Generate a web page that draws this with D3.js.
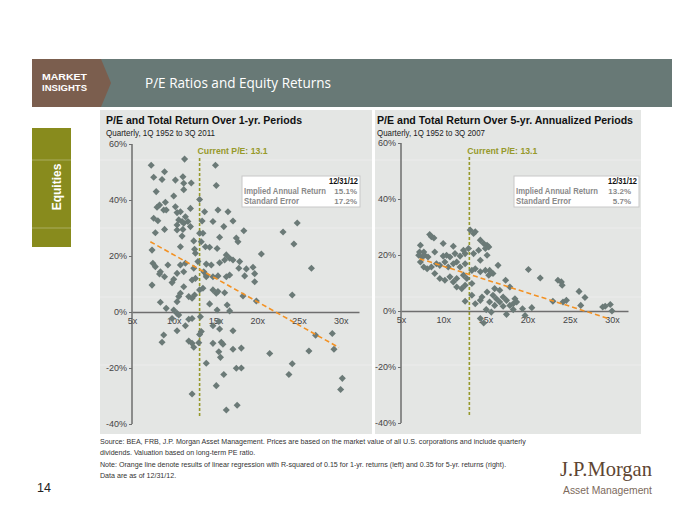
<!DOCTYPE html>
<html><head><meta charset="utf-8">
<script src="https://cdn.jsdelivr.net/npm/d3@7"></script>
<style>body{margin:0;background:#fff}svg{display:block}</style>
</head><body><svg id="c" width="700" height="525"></svg>
<script>
// ---------------- DATA ----------------
const yTickValues = [-40, -20, 0, 20, 40, 60];
const xTickValues = [5, 10, 15, 20, 25, 30];
const currentPE = 13.1;

// [P/E, total return %]  1-yr periods, quarterly 1Q1952-3Q2011
const oneYearPoints = [
[11.3,54.6],[7.3,52.4],[15.0,52.4],[8.9,50.1],[7.6,48.1],[8.6,47.3],[10.2,47.1],[11.1,48.3],[11.2,46.0],[12.1,46.1],
[15.1,45.2],[11.2,43.7],[7.9,43.0],[10.0,41.4],[13.1,40.2],[8.3,38.2],[8.0,37.4],[9.0,39.2],[10.2,37.6],[8.8,36.4],
[9.1,36.4],[12.0,37.0],[13.7,35.8],[15.3,36.4],[16.5,35.8],[10.4,35.5],[10.8,35.8],[11.4,34.0],[7.6,33.5],[8.1,32.6],
[10.6,32.9],[11.0,32.3],[11.2,31.7],[11.7,32.3],[10.4,31.1],[12.0,30.5],[13.4,32.5],[14.7,32.3],[16.0,30.5],[17.1,32.5],
[10.4,29.3],[11.1,29.5],[7.8,28.3],[8.9,29.5],[11.0,27.1],[13.1,28.1],[13.5,28.1],[15.5,26.7],[17.5,26.4],[17.7,25.1],
[18.4,29.0],[12.4,25.4],[13.3,25.1],[13.8,23.3],[14.3,23.1],[15.2,22.7],[7.4,22.1],[10.8,23.3],[12.5,22.4],[12.6,21.0],
[16.3,20.4],[16.7,19.2],[16.1,18.6],[17.1,18.6],[7.5,17.4],[7.8,16.2],[9.3,16.8],[10.8,16.8],[11.4,17.4],[12.9,18.0],
[13.9,17.1],[14.5,16.8],[15.5,17.6],[17.8,15.6],[8.4,14.4],[8.3,13.6],[10.4,13.8],[11.2,14.4],[12.4,15.6],[13.6,14.4],
[13.9,13.2],[14.7,12.6],[15.3,12.9],[16.3,12.6],[16.7,13.2],[8.9,12.6],[10.0,11.7],[7.4,9.6],[9.8,10.5],[12.2,11.4],
[12.6,12.0],[13.9,12.6],[11.2,9.0],[13.1,7.9],[13.5,8.5],[14.7,7.9],[15.1,6.7],[15.3,7.3],[16.1,6.9],[10.8,6.7],
[10.6,5.5],[11.8,5.5],[12.2,4.9],[10.4,3.7],[8.4,3.5],[12.5,6.1],[14.3,2.9],[16.4,2.5],[9.1,1.3],[10.0,0.7],
[10.4,-0.5],[15.2,0.7],[16.7,0.4],[10.6,-1.1],[9.8,-2.3],[11.8,-2.6],[12.2,-2.3],[13.2,-1.7],[11.4,-4.9],[14.7,-4.9],
[13.3,-7.0],[13.1,-8.0],[8.8,-8.2],[15.5,-6.1],[8.6,-10.8],[11.8,-10.4],[12.2,-11.2],[12.4,-12.6],[13.0,-11.0],[14.7,-11.2],
[15.7,-10.8],[15.9,-11.5],[15.4,-14.2],[17.1,-13.3],[18.1,-12.9],[13.9,-18.3],[17.5,-20.1],[18.1,-20.0],[16.0,-22.3],[15.1,-26.3],
[12.2,-29.3],[16.3,-35.0],[17.6,-33.3],[10.4,-6.7],[15.6,-16.2],[17.1,-6.7],[15.4,-3.4],
[17.9,18.0],[18.7,15.4],[18.5,12.9],[19.5,16.0],[19.7,13.7],[19.7,10.8],[20.5,20.7],[18.3,5.7],[19.9,3.9],[23.1,28.6],
[24.8,31.8],[24.4,24.3],[26.5,15.6],[24.2,6.1],[27.0,-8.3],[29.0,-7.7],[29.2,-13.3],[26.2,-13.9],[21.5,-14.8],[24.2,-18.5],
[23.8,-22.3],[30.2,-23.7],[30.0,-27.7]
];

// [P/E, annualized return %]  5-yr periods, quarterly 1Q1952-3Q2007
const fiveYearPoints = [
[8.4,27.3],[8.6,26.5],[8.9,26.1],[10.0,24.1],[11.2,23.1],[12.4,21.7],[7.3,23.5],[7.2,21.1],[7.7,21.1],[7.1,19.9],
[7.5,19.3],[7.8,19.9],[8.2,19.3],[9.0,21.1],[10.0,19.6],[10.4,19.9],[10.8,19.3],[11.4,20.5],[12.0,19.6],[12.6,20.5],
[13.0,22.3],[13.2,28.9],[13.6,27.7],[13.8,28.3],[14.4,25.3],[14.8,24.1],[15.2,23.5],[15.4,22.9],[15.0,22.3],[14.2,21.7],
[13.6,20.5],[14.4,18.1],[15.2,19.9],[16.5,16.3],[7.3,17.5],[7.7,15.7],[8.1,15.1],[8.6,15.7],[9.2,16.9],[9.6,16.3],
[10.2,17.5],[10.6,15.7],[11.2,16.9],[11.6,17.5],[12.0,15.7],[12.6,16.9],[13.4,14.5],[13.8,15.1],[14.4,14.0],[15.0,14.5],
[15.5,14.5],[15.4,12.8],[15.9,13.4],[9.0,13.4],[9.6,11.6],[10.2,11.0],[10.8,12.2],[11.2,10.4],[11.6,11.6],[12.4,12.8],
[12.8,11.6],[11.6,8.6],[12.2,8.0],[12.6,9.2],[13.4,9.8],[13.4,5.6],[12.6,3.5],[13.8,2.6],[14.4,3.8],[14.6,5.0],
[15.2,6.8],[16.1,8.0],[16.7,7.4],[17.4,11.0],[17.9,8.6],[15.9,5.6],[16.3,4.4],[16.7,3.2],[17.1,5.0],[17.5,3.8],
[17.9,2.0],[18.5,4.4],[18.3,2.6],[18.7,3.2],[16.1,2.0],[17.1,1.7],[15.5,3.2],[15.1,0.5],[15.7,-0.4],[17.5,-1.2],
[18.3,0.5],[19.4,0.8],[19.7,-1.6],[20.5,1.2],[20.1,14.8],[21.5,11.8],[23.6,11.0],[24.0,10.4],[24.1,9.2],[23.0,3.5],
[24.2,3.2],[24.6,3.8],[26.1,7.0],[26.8,4.8],[26.3,2.0],[28.9,1.4],[29.2,1.7],[29.8,2.3],[30.0,0.0],[14.4,-2.7],
[14.8,-4.3]
];

const oneYearTrend  = [[7.2, 25.1], [29.8, -12.7]];
const fiveYearTrend = [[7.2, 18.7], [29.6, -2.7]];

const statLabels = ["Implied Annual Return", "Standard Error"];
const oneYearStats = ["15.1%", "17.2%"];
const fiveYearStats = ["13.2%", "5.7%"];
const statDate = "12/31/12";

const footnotes = [
 "Source: BEA, FRB, J.P. Morgan Asset Management. Prices are based on the market value of all U.S. corporations and include quarterly",
 "dividends. Valuation based on long-term PE ratio.",
 "Note: Orange line denote results of linear regression with R-squared of 0.15 for 1-yr. returns (left) and 0.35 for 5-yr. returns (right).",
 "Data are as of 12/31/12."
];

// ---------------- DRAW ----------------
const svg = d3.select("#c");
const SANS = "'Liberation Sans', Arial, sans-serif";
const PT = "#6b7a77", OLIVE = "#96992a", ORANGE = "#f39224", AXIS = "#6e6e6e";

function txt(parent, x, y, s, size, opts = {}) {
  const t = parent.append("text").attr("x", x).attr("y", y).text(s)
    .attr("font-family", opts.family || SANS).attr("font-size", size)
    .attr("fill", opts.fill || "#222");
  if (opts.bold) t.attr("font-weight", "bold");
  if (opts.anchor) t.attr("text-anchor", opts.anchor);
  if (opts.len) t.attr("textLength", opts.len).attr("lengthAdjust", "spacingAndGlyphs");
  return t;
}

// header
svg.append("rect").attr("x",32).attr("y",59).attr("width",640).attr("height",48).attr("fill","#687976");
svg.append("path").attr("d","M32,59 L101,59 L111,83 L101,107 L32,107 Z").attr("fill","#7b5e4e");
txt(svg, 42, 80, "MARKET", 9.5, {bold:true, fill:"#fff", len:45});
txt(svg, 42, 91, "INSIGHTS", 9.5, {bold:true, fill:"#fff", len:45});
txt(svg, 145, 88, "P/E Ratios and Equity Returns", 14.5, {fill:"#fff", family:"'Open Sans', sans-serif", len:186});

// sidebar
svg.append("rect").attr("x",32).attr("y",128).attr("width",39).attr("height",119).attr("fill","#888b1d");
svg.append("text").attr("transform","translate(61,187) rotate(-90)").attr("text-anchor","middle")
  .text("Equities").attr("fill","#fff").attr("font-family",SANS).attr("font-weight","bold").attr("font-size",12);

// panels
svg.append("rect").attr("x",100).attr("y",110).attr("width",272).attr("height",324).attr("fill","#e4e6e4");
svg.append("rect").attr("x",375).attr("y",110).attr("width",266).attr("height",324).attr("fill","#e4e6e4");
[160,228,297,365].forEach(y=>{
  svg.append("line").attr("x1",32).attr("x2",672).attr("y1",y).attr("y2",y).attr("stroke","#fff").attr("stroke-opacity",0.3);
});

function drawChart(o){
  const g = svg.append("g");
  const x = d3.scaleLinear().domain([5, o.xMax]).range([o.x0, o.x1]);
  const y = d3.scaleLinear().domain([-40, 60]).range([o.yBottom, o.yTop]);

  txt(g, o.titleX, 124, o.title, 11.2, {bold:true, fill:"#111", len:o.titleLen});
  txt(g, o.titleX, 136, o.subtitle, 9.5, {fill:"#222", len:o.subLen});

  // y axis
  const ya = g.append("g").attr("transform",`translate(${o.x0},0)`)
    .call(d3.axisLeft(y).tickValues(yTickValues).tickSize(3).tickFormat(d=>d+"%"));
  ya.select(".domain").attr("stroke",AXIS).attr("stroke-width",1.5).attr("d",`M0,${y(60)}V${y(-40)}`);
  ya.selectAll(".tick line").attr("stroke",AXIS);
  ya.selectAll(".tick text").attr("font-family",SANS).attr("font-size",9).attr("fill","#444").attr("x",-5);

  // x axis at 0%
  const xa = g.append("g").attr("transform",`translate(0,${y(0)})`)
    .call(d3.axisBottom(x).tickValues(xTickValues).tickSize(0).tickFormat(d=>d+"x"));
  xa.select(".domain").attr("stroke",AXIS).attr("stroke-width",1.5);
  xa.selectAll(".tick text").attr("font-family",SANS).attr("font-size",9).attr("fill","#444").attr("dy","0.95em");

  // current P/E marker
  g.append("line").attr("x1",x(currentPE)).attr("x2",x(currentPE)).attr("y1",o.yTop+14).attr("y2",y(-37.5))
    .attr("stroke",OLIVE).attr("stroke-width",1.6).attr("stroke-dasharray","3,2");
  txt(g, x(currentPE)-2, 154, "Current P/E: "+currentPE, 9.5, {bold:true, fill:OLIVE, len:70});

  // points
  g.append("g").selectAll("rect").data(o.points).join("rect")
    .attr("width",5).attr("height",5).attr("x",-2.5).attr("y",-2.5)
    .attr("transform",d=>`translate(${x(d[0])},${y(d[1])}) rotate(45)`)
    .attr("fill",PT);

  // trend
  g.append("line").attr("x1",x(o.trend[0][0])).attr("y1",y(o.trend[0][1]))
    .attr("x2",x(o.trend[1][0])).attr("y2",y(o.trend[1][1]))
    .attr("stroke",ORANGE).attr("stroke-width",1.6).attr("stroke-dasharray","5,3");

  // stats box
  const b = o.box;
  g.append("rect").attr("x",b.x).attr("y",176).attr("width",b.w).attr("height",31)
    .attr("fill","#fff").attr("stroke","#c8c8c8").attr("stroke-width",1);
  txt(g, b.x+b.w-2, 184, statDate, 8.5, {bold:true, fill:"#111", anchor:"end", len:29});
  statLabels.forEach((lab,i)=>{
    txt(g, b.x+2, 194+i*9.5, lab, 8.3, {bold:true, fill:"#8a8a8a", len: i===0 ? 82 : 55});
    txt(g, b.valRight, 194+i*9.5, o.stats[i], 8.0, {bold:true, fill:"#8a8a8a", anchor:"end"});
  });
}

drawChart({title:"P/E and Total Return Over 1-yr. Periods", subtitle:"Quarterly, 1Q 1952 to 3Q 2011",
  titleX:106, titleLen:196, subLen:109, x0:132, x1:359, xMax:32.2, yTop:144, yBottom:424,
  points:oneYearPoints, trend:oneYearTrend, stats:oneYearStats, box:{x:242,w:118,valRight:357}});
drawChart({title:"P/E and Total Return Over 5-yr. Annualized Periods", subtitle:"Quarterly, 1Q 1952 to 3Q 2007",
  titleX:377, titleLen:256, subLen:108, x0:401, x1:628, xMax:31.9, yTop:143, yBottom:423,
  points:fiveYearPoints, trend:fiveYearTrend, stats:fiveYearStats, box:{x:514,w:125,valRight:631}});

// footnotes
const fy = [444, 455, 467, 478];
footnotes.forEach((t,i)=>{
  txt(svg, 100, fy[i], t, 7.1, {fill:"#333"});
});

// page number
txt(svg, 37, 492, "14", 12.5, {fill:"#222"});

// logo
txt(svg, 652, 476, "J.P.Morgan", 22, {family:"'Liberation Serif', 'Times New Roman', serif", fill:"#5e4532", anchor:"end", len:92});
txt(svg, 652, 494, "Asset Management", 11.5, {fill:"#7d6a5c", anchor:"end", len:89});
</script></body></html>
